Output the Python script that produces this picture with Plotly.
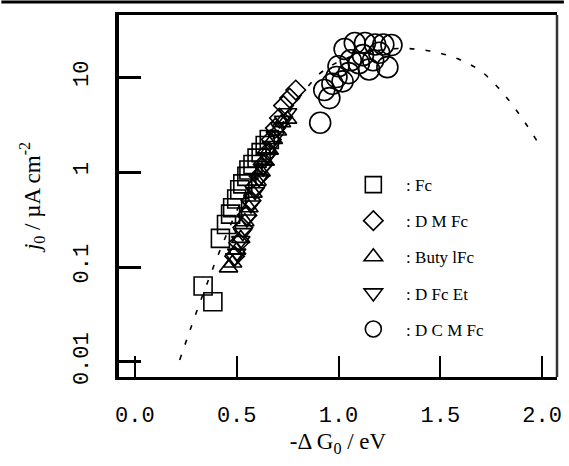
import plotly.graph_objects as go

# ---- data ----
fc_x = [0.335, 0.383, 0.42, 0.45, 0.47, 0.48, 0.50, 0.515, 0.53, 0.55, 0.56, 0.58, 0.60, 0.62, 0.64, 0.66]
fc_y = [0.063, 0.043, 0.20, 0.28, 0.36, 0.42, 0.52, 0.65, 0.75, 0.90, 1.05, 1.2, 1.4, 1.6, 1.9, 2.2]

dmfc_x = [0.49, 0.51, 0.53, 0.55, 0.57, 0.59, 0.61, 0.63, 0.65, 0.67, 0.69, 0.71, 0.73, 0.76, 0.79]
dmfc_y = [0.13, 0.18, 0.26, 0.35, 0.50, 0.70, 0.90, 1.2, 1.6, 2.2, 2.9, 3.7, 5.0, 6.0, 7.3]

butyl_x = [0.46, 0.48, 0.50, 0.52, 0.54, 0.56, 0.58, 0.60, 0.62, 0.64, 0.66, 0.68, 0.70, 0.72, 0.75]
butyl_y = [0.098, 0.11, 0.15, 0.20, 0.30, 0.42, 0.60, 0.80, 1.0, 1.3, 1.7, 2.2, 2.7, 3.3, 3.6]

dfcet_x = [0.49, 0.50, 0.52, 0.53, 0.55, 0.57, 0.59, 0.61, 0.63, 0.65, 0.67, 0.69, 0.71, 0.73, 0.75]
dfcet_y = [0.125, 0.14, 0.19, 0.23, 0.32, 0.45, 0.62, 0.85, 1.1, 1.45, 1.9, 2.4, 3.0, 3.5, 4.2]

dcmfc_x = [0.91, 0.93, 0.955, 0.97, 0.99, 1.00, 1.02, 1.03, 1.05, 1.06, 1.08, 1.10, 1.12, 1.13,
           1.15, 1.17, 1.18, 1.20, 1.22, 1.24, 1.26]
dcmfc_y = [3.3, 7.3, 6.0, 8.5, 10, 13, 9, 19.7, 11, 15, 22.8, 14, 17, 22.8,
           12, 15, 22, 18, 22, 12.7, 21.7]

curve_x = [0.22, 0.26, 0.30, 0.35, 0.40, 0.45, 0.50, 0.55, 0.60, 0.65, 0.70, 0.75, 0.80, 0.85,
           0.90, 0.95, 1.00, 1.10, 1.20, 1.30, 1.40, 1.50, 1.60, 1.70, 1.80, 1.90, 2.00]
curve_y = [0.0105, 0.0186, 0.0324, 0.0631, 0.120, 0.219, 0.389, 0.661, 1.10, 1.74, 2.69, 3.98, 5.75, 7.94,
           10.5, 12.6, 14.5, 17.4, 19.1, 20.0, 19.5, 17.8, 15.1, 11.5, 7.08, 3.72, 1.74]

x_ticks = [0.0, 0.5, 1.0, 1.5, 2.0]
x_ticklabels = ["0.0", "0.5", "1.0", "1.5", "2.0"]
y_ticks = [0.01, 0.1, 1, 10]
y_ticklabels = ["0.01", "0.1", "1", "10"]

NB = "\u00a0\u00a0\u00a0"
series = [
    (NB + ": Fc", fc_x, fc_y, "square-open", 18),
    (NB + ": D M Fc", dmfc_x, dmfc_y, "diamond-open", 15),
    (NB + ": Buty lFc", butyl_x, butyl_y, "triangle-up-open", 16),
    (NB + ": D Fc Et", dfcet_x, dfcet_y, "triangle-down-open", 16),
    (NB + ": D C M Fc", dcmfc_x, dcmfc_y, "circle-open", 21),
]

fig = go.Figure()

fig.add_trace(go.Scatter(
    x=curve_x, y=curve_y, mode="lines", showlegend=False,
    line=dict(color="black", width=1.6, dash="5px,11px", shape="spline"),
    hoverinfo="skip",
))

for i, (name, xs, ys, sym, sz) in enumerate(series):
    fig.add_trace(go.Scatter(
        x=xs, y=ys, mode="markers", name=name, legendgroup=f"g{i}",
        marker=dict(symbol=sym, size=sz, color="black", line=dict(color="black", width=1.6)),
    ))

serif = "Liberation Serif"
mono = "Liberation Mono"

fig.update_layout(
    width=569, height=466,
    margin=dict(l=119, r=7, t=15, b=89),
    paper_bgcolor="white", plot_bgcolor="white",
    showlegend=True,
    legend=dict(
        x=0.535, y=0.58, xanchor="left", yanchor="top",
        bgcolor="rgba(0,0,0,0)", borderwidth=0,
        font=dict(family=serif, size=17, color="black"),
        tracegroupgap=11, itemsizing="trace",
    ),
    xaxis=dict(
        range=[-0.078, 2.073], tickmode="array", tickvals=x_ticks, ticktext=x_ticklabels,
        ticks="inside", ticklen=21, tickwidth=2, tickcolor="black",
        showline=True, linewidth=2.5, linecolor="black", mirror=True,
        showgrid=False, zeroline=False,
        tickfont=dict(family=mono, size=22, color="black"),
        ticklabelstandoff=16,
        title=dict(text="-Δ G<sub>0</sub> / eV", font=dict(family=serif, size=23, color="black"), standoff=4),
    ),
    yaxis=dict(
        type="log", range=[-2.158, 1.653], tickmode="array", tickvals=y_ticks, ticktext=y_ticklabels,
        ticks="inside", ticklen=22, tickwidth=2.5, tickcolor="black",
        showline=True, linewidth=4, linecolor="black", mirror=False,
        showgrid=False, zeroline=False, tickangle=-90,
        tickfont=dict(family=mono, size=22, color="black"),
        ticklabelstandoff=18,
        title=dict(text="<i>j</i><sub>0</sub> / µA cm<sup>-2</sup>", font=dict(family=serif, size=23, color="black"), standoff=24),
    ),
    shapes=[
        dict(type="line", xref="paper", yref="paper", x0=1, x1=1, y0=0, y1=1,
             line=dict(color="#333333", width=2.5)),
        dict(type="line", xref="paper", yref="paper", x0=-119 / 443, x1=450 / 443,
             y0=1 + 13 / 362, y1=1 + 13 / 362, line=dict(color="black", width=3)),
    ],
)

fig.write_html("out.html")
